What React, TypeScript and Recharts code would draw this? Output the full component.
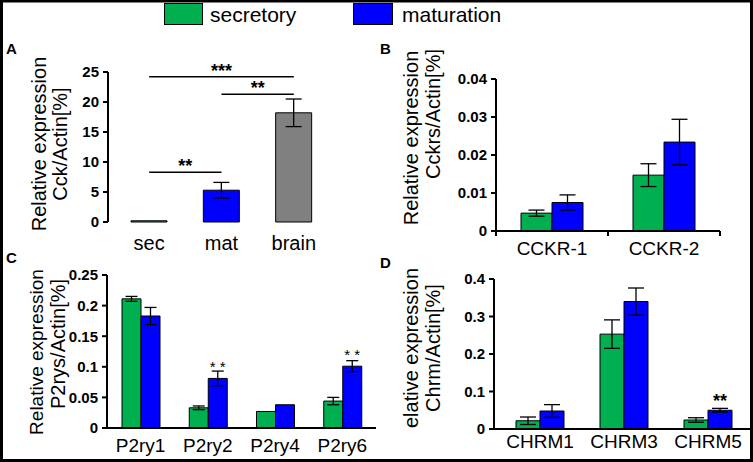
import React from 'react';
import { BarChart, Bar, XAxis, YAxis, ErrorBar, Cell, ReferenceLine, LabelList } from 'recharts';

const GREEN = '#00B050';
const BLUE = '#0000FF';
const GRAY = '#808080';
const FONT = '"Liberation Sans", Arial, sans-serif';
const TICKFONT = '"Liberation Sans", Arial, sans-serif';
const W = 753;
const H = 462;

// Panel A
const catsA = ['sec', 'mat', 'brain'];
const valsA = [0.2, 5.3, 18.2];
const errsA = [0, 1.3, 2.3];
const colorsA = [GREEN, BLUE, GRAY];
const ticksA = [0, 5, 10, 15, 20, 25];

// Panel B
const catsB = ['CCKR-1', 'CCKR-2'];
const secB = [0.0047, 0.0147];
const secErrB = [0.0008, 0.003];
const matB = [0.0075, 0.0234];
const matErrB = [0.002, 0.006];
const ticksB = [0, 0.01, 0.02, 0.03, 0.04];

// Panel C
const catsC = ['P2ry1', 'P2ry2', 'P2ry4', 'P2ry6'];
const secC = [0.211, 0.033, 0.027, 0.044];
const secErrC = [0.004, 0.003, 0, 0.006];
const matC = [0.183, 0.081, 0.038, 0.101];
const matErrC = [0.014, 0.012, 0, 0.009];
const sigC = ['', '*\u00A0*', '', '*\u00A0*'];
const ticksC = [0, 0.05, 0.1, 0.15, 0.2, 0.25];

// Panel D
const catsD = ['CHRM1', 'CHRM3', 'CHRM5'];
const secD = [0.022, 0.253, 0.024];
const secErrD = [0.01, 0.038, 0.006];
const matD = [0.048, 0.34, 0.05];
const matErrD = [0.017, 0.036, 0.005];
const sigD = ['', '', '**'];
const ticksD = [0, 0.1, 0.2, 0.3, 0.4];

const dataA = catsA.map((c, i) => ({ cat: c, v: valsA[i], e: errsA[i] }));
const dataB = catsB.map((c, i) => ({ cat: c, s: secB[i], se: secErrB[i], m: matB[i], me: matErrB[i] }));
const dataC = catsC.map((c, i) => ({ cat: c, s: secC[i], se: secErrC[i], m: matC[i], me: matErrC[i], sig: sigC[i] }));
const dataD = catsD.map((c, i) => ({ cat: c, s: secD[i], se: secErrD[i], m: matD[i], me: matErrD[i], sig: sigD[i] }));

const YW = 50;
const XH = 30;

type Plot = { left: number; right: number; top: number; bottom: number };

function marginFor(p: Plot) {
  return { top: p.top, left: p.left - YW, right: W - p.right, bottom: H - p.bottom - XH };
}

const chartStyle: React.CSSProperties = { position: 'absolute', left: 0, top: 0 };

const yTick = { fontSize: 15, fontWeight: 'bold', fill: '#000', fontFamily: TICKFONT };
const axisLineStyle = { stroke: '#000', strokeWidth: 2 };

function yAxis(ticks: number[]) {
  return (
    <YAxis
      width={YW}
      type="number"
      domain={[ticks[0], ticks[ticks.length - 1]]}
      ticks={ticks}
      interval={0}
      tick={yTick}
      axisLine={axisLineStyle}
      tickLine={axisLineStyle}
      tickSize={5}
      tickMargin={4}
    />
  );
}

const errProps = { stroke: '#000', strokeWidth: 1.3, width: 8 };

const plotA: Plot = { left: 108, right: 330, top: 72, bottom: 222 };
const plotB: Plot = { left: 496, right: 720, top: 79, bottom: 231 };
const plotC: Plot = { left: 107, right: 376, top: 275, bottom: 428 };
const plotD: Plot = { left: 494, right: 750, top: 279, bottom: 429 };

function BoundaryTick(props: any) {
  const { x, y, payload, index, half, axisY } = props;
  return (
    <g>
      <text x={x} y={y} dy="0.71em" textAnchor="middle" fontSize={19} fill="#000" fontFamily={FONT}>
        {payload.value}
      </text>
      {index === 0 && <line x1={x - half} x2={x - half} y1={axisY} y2={axisY + 5} stroke="#000" strokeWidth={2} />}
      <line x1={x + half} x2={x + half} y1={axisY} y2={axisY + 5} stroke="#000" strokeWidth={2} />
    </g>
  );
}

const starLabel = { position: 'top' as const, offset: 0, fontSize: 18, fontWeight: 'bold', fill: '#000', fontFamily: FONT };

function PanelA() {
  return (
    <BarChart width={W} height={H} data={dataA} margin={marginFor(plotA)} style={chartStyle}>
      <XAxis
        dataKey="cat"
        height={XH}
        interval={0}
        axisLine={false}
        tickLine={false}
        tickSize={6}
        tickMargin={8}
        padding={{ left: 5, right: 0 }}
        tick={{ fontSize: 20, fill: '#000', fontFamily: FONT }}
      />
      {yAxis(ticksA)}
      <Bar dataKey="v" barSize={36} stroke="#000" strokeWidth={1} isAnimationActive={false}>
        {dataA.map((d, i) => (
          <Cell key={d.cat} fill={colorsA[i]} />
        ))}
        <ErrorBar dataKey="e" {...errProps} />
      </Bar>
      <ReferenceLine
        segment={[{ x: 'sec', y: 24.2 }, { x: 'brain', y: 24.2 }]}
        stroke="#000"
        strokeWidth={1.5}
        label={{ value: '***', ...starLabel }}
      />
      <ReferenceLine
        segment={[{ x: 'mat', y: 21.3 }, { x: 'brain', y: 21.3 }]}
        stroke="#000"
        strokeWidth={1.5}
        label={{ value: '**', ...starLabel }}
      />
      <ReferenceLine
        segment={[{ x: 'sec', y: 8.3 }, { x: 'mat', y: 8.3 }]}
        stroke="#000"
        strokeWidth={1.5}
        label={{ value: '**', ...starLabel }}
      />
    </BarChart>
  );
}

function PanelB() {
  const half = (plotB.right - plotB.left) / catsB.length / 2;
  return (
    <BarChart width={W} height={H} data={dataB} margin={marginFor(plotB)} barGap={0} style={chartStyle}>
      <XAxis
        dataKey="cat"
        height={XH}
        interval={0}
        axisLine={axisLineStyle}
        tickLine={false}
        tickSize={5}
        tickMargin={6}
        tick={<BoundaryTick half={half} axisY={plotB.bottom} />}
      />
      {yAxis(ticksB)}
      <Bar dataKey="s" fill={GREEN} barSize={31} stroke="#000" strokeWidth={1} isAnimationActive={false}>
        <ErrorBar dataKey="se" {...errProps} />
      </Bar>
      <Bar dataKey="m" fill={BLUE} barSize={31} stroke="#000" strokeWidth={1} isAnimationActive={false}>
        <ErrorBar dataKey="me" {...errProps} />
      </Bar>
    </BarChart>
  );
}

function PanelC() {
  return (
    <BarChart width={W} height={H} data={dataC} margin={marginFor(plotC)} barGap={0} style={chartStyle}>
      <XAxis
        dataKey="cat"
        height={XH}
        interval={0}
        axisLine={axisLineStyle}
        tickLine={false}
        tickSize={5}
        tickMargin={6}
        tick={{ fontSize: 19, fill: '#000', fontFamily: FONT }}
      />
      {yAxis(ticksC)}
      <Bar dataKey="s" fill={GREEN} barSize={19} stroke="#000" strokeWidth={1} isAnimationActive={false}>
        <ErrorBar dataKey="se" {...errProps} width={6} />
      </Bar>
      <Bar dataKey="m" fill={BLUE} barSize={19} stroke="#000" strokeWidth={1} isAnimationActive={false}>
        <ErrorBar dataKey="me" {...errProps} width={6} />
        <LabelList dataKey="sig" position="top" offset={6} fontSize={15} fill="#000" fontFamily={FONT} />
      </Bar>
    </BarChart>
  );
}

function PanelD() {
  return (
    <BarChart width={W} height={H} data={dataD} margin={marginFor(plotD)} barGap={0} style={chartStyle}>
      <XAxis
        dataKey="cat"
        height={XH}
        interval={0}
        axisLine={axisLineStyle}
        tickLine={false}
        tickSize={3}
        tickMargin={3}
        padding={{ left: 4, right: 0 }}
        tick={{ fontSize: 19, fill: '#000', fontFamily: FONT }}
      />
      {yAxis(ticksD)}
      <Bar dataKey="s" fill={GREEN} barSize={24} stroke="#000" strokeWidth={1} isAnimationActive={false}>
        <ErrorBar dataKey="se" {...errProps} />
      </Bar>
      <Bar dataKey="m" fill={BLUE} barSize={24} stroke="#000" strokeWidth={1} isAnimationActive={false}>
        <ErrorBar dataKey="me" {...errProps} />
        <LabelList dataKey="sig" position="top" offset={3} fontSize={18} fontWeight="bold" fill="#000" fontFamily={FONT} />
      </Bar>
    </BarChart>
  );
}

function VLabel({ x, y, text, size = 20 }: { x: number; y: number; text: string; size?: number }) {
  return (
    <text x={x} y={y} transform={`rotate(-90 ${x} ${y})`} textAnchor="middle" fontSize={size} fill="#000" fontFamily={FONT}>
      {text}
    </text>
  );
}

function Overlay() {
  return (
    <svg width={W} height={H} style={{ position: 'absolute', left: 0, top: 0, pointerEvents: 'none' }}>
      <rect x={1.5} y={1} width={W - 3} height={H - 2.5} fill="none" stroke="#000" strokeWidth={3} />
      {/* legend */}
      <rect x={164.5} y={3.5} width={38} height={21} fill={GREEN} stroke="#000" strokeWidth={1} />
      <text x={210} y={22} fontSize={21} fill="#000" fontFamily={FONT}>secretory</text>
      <rect x={353.5} y={3.5} width={39} height={21} fill={BLUE} stroke="#000" strokeWidth={1} />
      <text x={402} y={22} fontSize={21} fill="#000" fontFamily={FONT}>maturation</text>
      {/* panel letters */}
      <text x={6} y={54} fontSize={15} fontWeight="bold" fill="#000" fontFamily={FONT}>A</text>
      <text x={380} y={54} fontSize={15} fontWeight="bold" fill="#000" fontFamily={FONT}>B</text>
      <text x={6} y={263} fontSize={15} fontWeight="bold" fill="#000" fontFamily={FONT}>C</text>
      <text x={380} y={268} fontSize={15} fontWeight="bold" fill="#000" fontFamily={FONT}>D</text>
      {/* y labels */}
      <VLabel x={46} y={144} text="Relative expression" />
      <VLabel x={67} y={144} text="Cck/Actin[%]" />
      <VLabel x={418} y={138} text="Relative expression" />
      <VLabel x={440} y={114} text="Cckrs/Actin[%]" />
      <VLabel x={43} y={352} text="Relative expression" size={19} />
      <VLabel x={65} y={344} text="P2rys/Actin[%]" />
      <VLabel x={418} y={348} text="elative expression" />
      <VLabel x={440} y={348} text="Chrm/Actin[%]" />
    </svg>
  );
}

export default function App() {
  return (
    <div style={{ position: 'absolute', left: 0, top: 0, width: W, height: H, background: '#fff' }}>
      <PanelA />
      <PanelB />
      <PanelC />
      <PanelD />
      <Overlay />
    </div>
  );
}
